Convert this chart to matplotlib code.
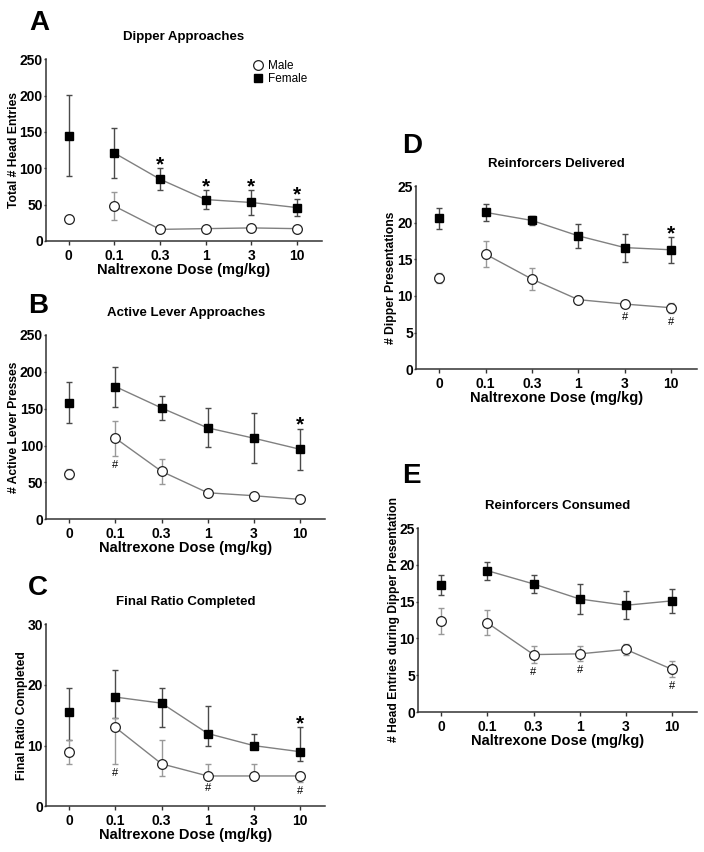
import numpy as np
import matplotlib.pyplot as plt
from matplotlib.lines import Line2D

plt.rcParams['font.family'] = ['Liberation Sans', 'DejaVu Sans']

W, H = 704, 852

doses = ['0', '0.1', '0.3', '1', '3', '10']

# A - dipper approaches
a_male = [30, 48, 16, 17, 18, 17]
a_male_err = [2, 19, 2, 2, 2, 2]
a_fem = [145, 121, 85, 57, 53, 46]
a_fem_err = [56, 35, 15, 13, 17, 12]
a_stars = [2, 3, 4, 5]
a_hash = []

# B - active lever approaches
b_male = [61, 110, 65, 36, 32, 27]
b_male_err = [7, 23.5, 17, 2, 2, 2]
b_fem = [158, 180, 151, 124, 110, 95]
b_fem_err = [28, 27, 16, 26.5, 34, 28]
b_stars = [5]
b_hash = [1]

# C - final ratio completed (asymmetric bars: lower, upper)
c_male = [9, 13, 7, 5, 5, 5]
c_male_lo = [2, 6, 2, 0, 0, 1]
c_male_hi = [2, 1.5, 4, 2, 2, 0]
c_fem = [15.5, 18, 17, 12, 10, 9]
c_fem_lo = [4.5, 3.5, 4, 2, 0.5, 1.5]
c_fem_hi = [4, 4.5, 2.5, 4.5, 2, 4]
c_stars = [5]
c_hash = [1, 3, 5]

# D - reinforcers delivered
d_male = [12.5, 15.7, 12.3, 9.5, 8.9, 8.4]
d_male_err = [0.7, 1.75, 1.55, 0.5, 0.3, 0.7]
d_fem = [20.6, 21.4, 20.3, 18.2, 16.6, 16.3]
d_fem_err = [1.4, 1.2, 0.65, 1.6, 1.9, 1.75]
d_stars = [5]
d_hash = [4, 5]

# E - reinforcers consumed
e_male = [12.4, 12.1, 7.8, 7.9, 8.5, 5.8]
e_male_err = [1.75, 1.7, 1.2, 1.0, 0.8, 1.1]
e_fem = [17.2, 19.2, 17.4, 15.35, 14.5, 15.1]
e_fem_err = [1.35, 1.2, 1.2, 2.1, 1.9, 1.6]
e_stars = []
e_hash = [2, 3, 5]


def rect(x0, x1, ytop, ybot):
    return [x0 / W, 1 - ybot / H, (x1 - x0) / W, (ybot - ytop) / H]


fig = plt.figure(figsize=(W / 100, H / 100), dpi=100)


def panel(r, letter, lxy, title, ylabel, ylim, yticks,
          male, male_err, fem, fem_err, stars, hashes):
    ax = fig.add_axes(r)
    x = np.arange(len(doses))
    male = np.array(male, float)
    fem = np.array(fem, float)
    male_err = np.array(male_err, float)
    fem_err = np.array(fem_err, float)

    ax.errorbar(x, fem, yerr=fem_err, fmt='none', ecolor='#4a4a4a',
                elinewidth=1, capsize=2, capthick=1, zorder=2)
    ax.errorbar(x, male, yerr=male_err, fmt='none', ecolor='#999999',
                elinewidth=1, capsize=2, capthick=1, zorder=2)
    ax.plot(x[1:], fem[1:], color='#808080', lw=1, zorder=3)
    ax.plot(x[1:], male[1:], color='#808080', lw=1, zorder=3)
    ax.plot(x, fem, ls='none', marker='s', ms=6.3, mfc='black',
            mec='black', zorder=4)
    ax.plot(x, male, ls='none', marker='o', ms=7, mfc='white',
            mec='#222222', mew=0.9, zorder=4)

    ax.set_xlim(-0.5, 5.55)
    ax.set_ylim(*ylim)
    ax.set_yticks(yticks)
    ax.set_xticks(x)
    ax.set_xticklabels(doses)
    for s in ['top', 'right']:
        ax.spines[s].set_visible(False)
    for s in ['left', 'bottom']:
        ax.spines[s].set_linewidth(1.1)
        ax.spines[s].set_color('#333333')
    ax.tick_params(axis='both', direction='out', width=1,
                   color='#333333', labelsize=10)
    ax.tick_params(axis='y', length=1.5, pad=0.8)
    ax.tick_params(axis='x', length=3, pad=2.5)
    for lbl in ax.get_xticklabels() + ax.get_yticklabels():
        lbl.set_fontweight('bold')
    ax.set_title(title, fontsize=9.5, fontweight='bold', pad=14)
    ax.set_xlabel('Naltrexone Dose (mg/kg)', fontsize=10.5,
                  fontweight='bold', labelpad=0)
    ax.set_ylabel(ylabel, fontsize=8.7, fontweight='bold', labelpad=0)

    fig.text(lxy[0] / W, 1 - lxy[1] / H, letter, ha='center',
             va='baseline', fontsize=20, fontweight='bold')

    # significance marks, placed relative to the error bars (in pixels)
    to_px = ax.transData.transform
    to_data = ax.transData.inverted().transform
    up = fem + fem_err if fem_err.ndim == 1 else fem + fem_err[1]
    lo = male - male_err if male_err.ndim == 1 else male - male_err[0]
    for i in stars:
        py = to_px((i, up[i]))[1] + 8 - 10
        ax.text(i, to_data((0, py))[1], '*', ha='center', va='baseline',
                fontsize=15, fontweight='bold', zorder=5)
    for i in hashes:
        pe = to_px((i, lo[i]))[1] - 8
        pm = to_px((i, male[i]))[1] - 11.5
        py = min(pe, pm) - 4
        ax.text(i, to_data((0, py))[1], '#', ha='center', va='baseline',
                fontsize=8, zorder=5)
    return ax


ax_a = panel(rect(46, 322, 59.3, 241), 'A', (39, 30), 'Dipper Approaches',
             'Total # Head Entries', (0, 250), range(0, 251, 50),
             a_male, a_male_err, a_fem, a_fem_err, a_stars, a_hash)
handles = [Line2D([], [], ls='none', marker='o', ms=7, mfc='white',
                  mec='#222222', mew=0.9),
           Line2D([], [], ls='none', marker='s', ms=6.3, mfc='black',
                  mec='black')]
ax_a.legend(handles, ['Male', 'Female'], loc='upper left',
            bbox_to_anchor=(0.745, 0.995), frameon=False, fontsize=8.5,
            handlelength=1, handletextpad=0.4, borderpad=0,
            borderaxespad=0, labelspacing=0.1)

panel(rect(46.2, 325.4, 335, 519.3), 'B', (38, 313), 'Active Lever Approaches',
      '# Active Lever Presses', (0, 250), range(0, 251, 50),
      b_male, b_male_err, b_fem, b_fem_err, b_stars, b_hash)

panel(rect(46.2, 325.4, 624.3, 806.3), 'C', (38, 595), 'Final Ratio Completed',
      'Final Ratio Completed', (0, 30), range(0, 31, 10),
      c_male, [c_male_lo, c_male_hi], c_fem, [c_fem_lo, c_fem_hi],
      c_stars, c_hash)

panel(rect(416.1, 696.5, 186, 369.3), 'D', (412, 153), 'Reinforcers Delivered',
      '# Dipper Presentations', (0, 25), range(0, 26, 5),
      d_male, d_male_err, d_fem, d_fem_err, d_stars, d_hash)

panel(rect(418.2, 697.4, 528, 712), 'E', (411, 483), 'Reinforcers Consumed',
      '# Head Entries during Dipper Presentation', (0, 25), range(0, 26, 5),
      e_male, e_male_err, e_fem, e_fem_err, e_stars, e_hash)

fig.savefig('out.png', dpi=100)
